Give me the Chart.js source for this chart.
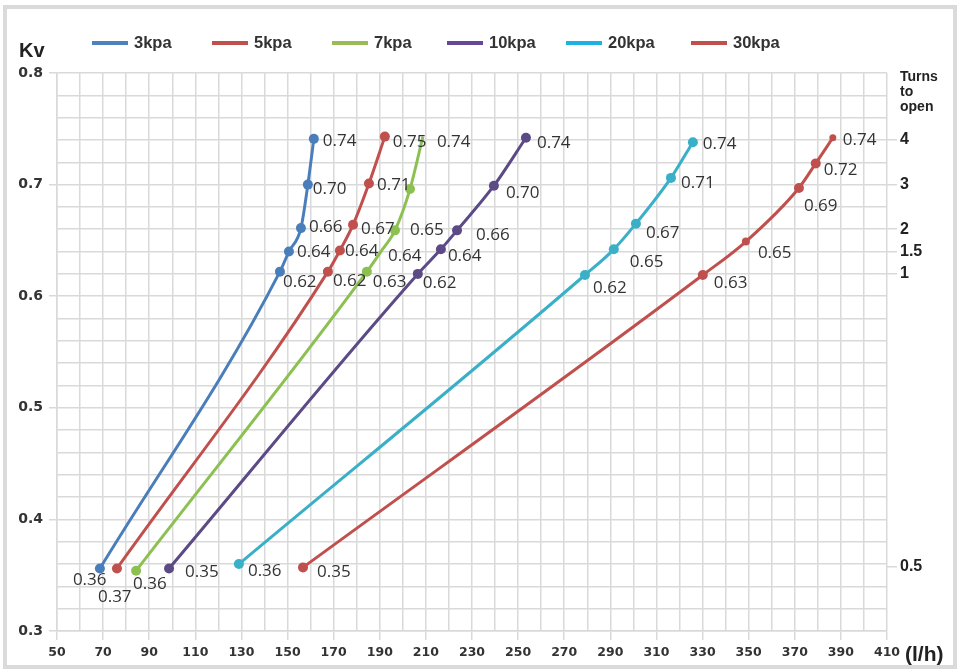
<!DOCTYPE html>
<html>
<head>
<meta charset="utf-8">
<script src="https://cdn.jsdelivr.net/npm/chart.js@4/dist/chart.umd.min.js"></script>
<style>
  html, body { margin: 0; padding: 0; background: #fff; }
  #wrap { width: 960px; height: 672px; }
</style>
</head>
<body>
<div id="wrap"><canvas id="c" width="960" height="672"></canvas></div>
<script>
// ---------- DATA ----------
const seriesNames = ['3kpa', '5kpa', '7kpa', '10kpa', '20kpa', '30kpa'];

const flow3  = [68.6, 146.7, 150.6, 155.8, 158.8, 161.4];
const kv3    = [0.356, 0.622, 0.640, 0.661, 0.700, 0.741];
const lbl3   = ['0.36', '0.62', '0.64', '0.66', '0.70', '0.74'];

const flow5  = [76.0, 167.5, 172.7, 178.4, 185.3, 192.2];
const kv5    = [0.356, 0.622, 0.641, 0.664, 0.701, 0.743];
const lbl5   = ['0.37', '0.62', '0.64', '0.67', '0.71', '0.75'];

const flow7  = [84.3, 184.4, 190.5, 196.6, 203.1, 208.7];
const kv7    = [0.354, 0.622, 0.640, 0.659, 0.696, 0.743];
const lbl7   = ['0.36', '0.63', '0.64', '0.65', '', '0.74'];

const flow10 = [98.6, 206.5, 216.5, 223.5, 239.5, 253.4];
const kv10   = [0.356, 0.620, 0.642, 0.659, 0.699, 0.742];
const lbl10  = ['0.35', '0.62', '0.64', '0.66', '0.70', '0.74'];

const flow20 = [128.9, 279.0, 291.5, 301.1, 316.3, 325.8];
const kv20   = [0.360, 0.619, 0.642, 0.665, 0.706, 0.738];
const lbl20  = ['0.36', '0.62', '0.65', '0.67', '0.71', '0.74'];

const flow30 = [156.7, 330.1, 348.8, 371.8, 379.1, 386.5];
const kv30   = [0.357, 0.619, 0.649, 0.697, 0.719, 0.742];
const lbl30  = ['0.35', '0.63', '0.65', '0.69', '0.72', '0.74'];

const xTickLabels = [50, 70, 90, 110, 130, 150, 170, 190, 210, 230, 250, 270, 290, 310, 330, 350, 370, 390, 410];
const yTickLabels = ['0.3', '0.4', '0.5', '0.6', '0.7', '0.8'];
const turnsLabels = ['4', '3', '2', '1.5', '1', '0.5'];
const turnsKv     = [0.74, 0.70, 0.66, 0.64, 0.62, 0.358];

// ---------- STYLE ----------
const lineColors   = ['#4a7ebb', '#c0504d', '#8cc152', '#5b4a86', '#3aafc8', '#c0504d'];
const legendColors = ['#4f81bd', '#c0504d', '#9bbb59', '#65479a', '#1eb2e3', '#c0504d'];
const pointRadii = [
  [5, 5, 5, 5, 5, 5],
  [5, 5, 5, 5, 5, 5],
  [5, 5, 0, 5, 5, 0],
  [5, 5, 5, 5, 5, 5],
  [5, 5, 5, 5, 5, 5],
  [5, 5, 4, 5, 5, 3.5]
];
// label offsets [dx, dy] relative to the point (left edge, vertical middle)
const labelOffsets = [
  [[-27, 12], [3, 11], [8, 1], [8, -1], [5, 5], [9, 2]],
  [[-19, 29], [5, 10], [5, 1], [8, 4], [8, 2], [8, 6]],
  [[-3, 13], [6, 11], [7, 5], [15, 0], [0, 0], [14, 6]],
  [[16, 4], [5, 9], [7, 7], [19, 5], [12, 7], [11, 5]],
  [[9, 7], [8, 13], [16, 13], [10, 9], [10, 5], [10, 2]],
  [[14, 5], [11, 8], [12, 12], [5, 18], [8, 7], [10, 2]]
];
const legendX = [92, 212, 332, 447, 566, 691];

const flows = [flow3, flow5, flow7, flow10, flow20, flow30];
const kvs = [kv3, kv5, kv7, kv10, kv20, kv30];
const lbls = [lbl3, lbl5, lbl7, lbl10, lbl20, lbl30];

const datasets = seriesNames.map((name, i) => ({
  label: name,
  xAxisID: 'x',
  yAxisID: 'y',
  data: flows[i].map((f, j) => ({ x: f, y: kvs[i][j] })),
  borderColor: lineColors[i],
  backgroundColor: lineColors[i],
  pointBackgroundColor: lineColors[i],
  pointBorderColor: lineColors[i],
  pointRadius: pointRadii[i],
  pointBorderWidth: 0,
  borderWidth: 3,
  showLine: true,
  cubicInterpolationMode: 'monotone',
  fill: false,
  clip: false
}));

const GRID = '#d9d9d9';
const TXT = '#333333';

const decorPlugin = {
  id: 'decor',
  beforeDraw(chart) {
    const ctx = chart.ctx;
    ctx.save();
    ctx.fillStyle = '#ffffff';
    ctx.fillRect(0, 0, chart.width, chart.height);
    ctx.strokeStyle = '#dadada';
    ctx.lineWidth = 4;
    ctx.strokeRect(5, 7, chart.width - 10, chart.height - 12);
    ctx.restore();
  },
  afterDatasetsDraw(chart) {
    const ctx = chart.ctx;
    ctx.save();
    ctx.font = '17px "Open Sans", sans-serif';
    ctx.fillStyle = TXT;
    ctx.textAlign = 'left';
    ctx.textBaseline = 'middle';
    chart.data.datasets.forEach((ds, i) => {
      const meta = chart.getDatasetMeta(i);
      meta.data.forEach((pt, j) => {
        const t = lbls[i][j];
        if (!t) return;
        const off = labelOffsets[i][j];
        ctx.fillText(t, pt.x + off[0], pt.y + off[1]);
      });
    });
    ctx.restore();
  },
  afterDraw(chart) {
    const ctx = chart.ctx;
    ctx.save();
    // legend
    ctx.textBaseline = 'middle';
    ctx.textAlign = 'left';
    ctx.font = 'bold 16.5px "Liberation Sans", sans-serif';
    seriesNames.forEach((name, i) => {
      const x = legendX[i];
      ctx.strokeStyle = legendColors[i];
      ctx.lineWidth = 4;
      ctx.beginPath();
      ctx.moveTo(x, 43);
      ctx.lineTo(x + 36, 43);
      ctx.stroke();
      ctx.fillStyle = TXT;
      ctx.fillText(name, x + 42, 43);
    });
    // Kv title
    ctx.fillStyle = '#222';
    ctx.font = 'bold 20px "Liberation Sans", sans-serif';
    ctx.fillText('Kv', 19, 51);
    // (l/h)
    ctx.font = 'bold 21px "Liberation Sans", sans-serif';
    ctx.fillText('(l/h)', 905, 655);
    // Turns to open
    ctx.font = 'bold 14px "Liberation Sans", sans-serif';
    ctx.fillText('Turns', 900, 77);
    ctx.fillText('to', 900, 92);
    ctx.fillText('open', 900, 107);
    ctx.restore();
  }
};

const tickFont = { family: '"DejaVu Sans", sans-serif', weight: 'bold', size: 13 };

new Chart(document.getElementById('c'), {
  type: 'scatter',
  data: { datasets },
  plugins: [decorPlugin],
  options: {
    responsive: false,
    animation: false,
    events: [],
    layout: { padding: 0 },
    plugins: {
      legend: { display: false },
      tooltip: { enabled: false },
      title: { display: false }
    },
    scales: {
      x: {
        type: 'linear',
        min: 50,
        max: 410,
        position: 'bottom',
        ticks: {
          stepSize: 10,
          autoSkip: false,
          maxRotation: 0,
          color: TXT,
          font: { family: '"DejaVu Sans", sans-serif', weight: 'bold', size: 12.5 },
          padding: 5,
          callback: (v) => xTickLabels.includes(v) ? String(v) : ''
        },
        grid: {
          color: GRID,
          lineWidth: 1.5,
          tickLength: 9,
          tickColor: (c) => (c.tick && xTickLabels.includes(c.tick.value)) ? GRID : 'rgba(0,0,0,0)'
        },
        border: { color: GRID, width: 1.5 },
        afterFit(scale) { scale.height = 41; }
      },
      y: {
        type: 'linear',
        min: 0.3,
        max: 0.8,
        position: 'left',
        ticks: {
          stepSize: 0.02,
          autoSkip: false,
          color: TXT,
          font: { family: '"DejaVu Sans", sans-serif', weight: 'bold', size: 14 },
          padding: 6,
          callback: (v) => {
            const s = (Math.round(v * 100) / 100).toFixed(2);
            const t = s.endsWith('0') ? s.slice(0, -1) : null;
            return (t && yTickLabels.includes(t)) ? t : '';
          }
        },
        grid: {
          color: GRID,
          lineWidth: 1.5,
          tickLength: 8,
          tickColor: (c) => {
            if (!c.tick) return 'rgba(0,0,0,0)';
            const r = Math.round(c.tick.value * 100);
            return r % 10 === 0 ? GRID : 'rgba(0,0,0,0)';
          }
        },
        border: { color: GRID, width: 1.5 },
        afterFit(scale) { scale.width = 57; }
      },
      y2: {
        type: 'linear',
        min: 0.3,
        max: 0.8,
        position: 'right',
        afterBuildTicks(scale) {
          scale.ticks = turnsKv.map(v => ({ value: v }));
        },
        ticks: {
          autoSkip: false,
          color: '#222',
          font: { family: '"Liberation Sans", sans-serif', weight: 'bold', size: 16 },
          padding: 3,
          callback: (v, i) => turnsLabels[i]
        },
        grid: {
          drawOnChartArea: false,
          color: GRID,
          lineWidth: 1.5,
          tickLength: 10
        },
        border: { display: false },
        afterFit(scale) { scale.width = 73; }
      },
      topSpace: {
        type: 'linear',
        position: 'top',
        min: 0,
        max: 1,
        display: true,
        ticks: { display: false },
        grid: { display: false, drawTicks: false },
        border: { display: false },
        afterFit(scale) { scale.height = 73; }
      }
    }
  }
});
</script>
</body>
</html>
